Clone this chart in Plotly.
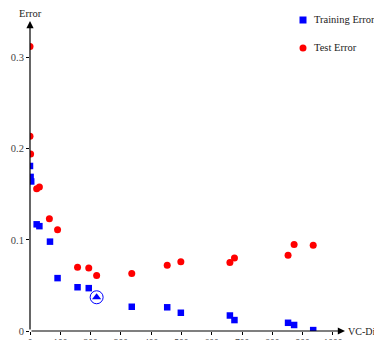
import plotly.graph_objects as go

train_x = [0, 2, 4, 22, 31, 66, 91, 157, 194, 336, 453, 498, 660, 675, 852, 872, 935]
train_y = [0.181, 0.169, 0.164, 0.117, 0.115, 0.098, 0.058, 0.048, 0.047, 0.0266, 0.026, 0.020, 0.017, 0.012, 0.009, 0.0066, 0.001]

test_x = [0, 0, 2, 22, 31, 64, 91, 157, 194, 220, 336, 453, 498, 660, 675, 852, 872, 935]
test_y = [0.312, 0.2136, 0.194, 0.156, 0.158, 0.123, 0.111, 0.070, 0.069, 0.061, 0.063, 0.072, 0.076, 0.075, 0.080, 0.083, 0.095, 0.094]

best_x = [220]
best_y = [0.037]

x_ticks = [0, 100, 200, 300, 400, 500, 600, 700, 800, 900, 1000]
y_ticks = [0, 0.1, 0.2, 0.3]
legend_labels = ["Training Error", "Test Error"]

FONT = "Liberation Serif"
BLUE = "#0000ff"
RED = "#ff0000"
XMAX = 1040
YMAX = 0.34

OFF = 8  # page body margin
W, H = 382 - OFF, 340 - OFF
ML, MR, MT, MB = 30 - OFF, 0, 0, 9
PW, PH = W - ML - MR, H - MT - MB


def px(x):
    return (x - OFF - ML) / PW


def py(y):
    return 1 - (y - OFF - MT) / PH


fig = go.Figure()
fig.add_trace(go.Scatter(x=train_x, y=train_y, mode="markers", name=legend_labels[0],
                         showlegend=False,
                         marker=dict(symbol="square", size=6.5, color=BLUE)))
fig.add_trace(go.Scatter(x=test_x, y=test_y, mode="markers", name=legend_labels[1],
                         showlegend=False,
                         marker=dict(symbol="circle", size=7, color=RED)))
fig.add_trace(go.Scatter(x=best_x, y=best_y, mode="markers", showlegend=False,
                         marker=dict(symbol="circle-open", size=13, color=BLUE,
                                     line=dict(width=1, color=BLUE))))
fig.add_trace(go.Scatter(x=best_x, y=best_y, mode="markers", showlegend=False,
                         marker=dict(symbol="triangle-up", size=8, color=BLUE)))

# axis arrows
fig.add_annotation(x=XMAX, y=0, ax=0, ay=0, xref="x", yref="y", axref="x", ayref="y",
                   showarrow=True, arrowhead=2, arrowsize=1.2, arrowwidth=1.2,
                   arrowcolor="black", text="")
fig.add_annotation(x=0, y=YMAX, ax=0, ay=0, xref="x", yref="y", axref="x", ayref="y",
                   showarrow=True, arrowhead=2, arrowsize=1.2, arrowwidth=1.2,
                   arrowcolor="black", text="")
fig.add_annotation(x=XMAX, y=0, xref="x", yref="y", text="VC-Dim", showarrow=False,
                   xanchor="left", yanchor="middle", xshift=1,
                   font=dict(family=FONT, size=10, color="#222"))
fig.add_annotation(x=0, y=YMAX, xref="x", yref="y", text="Error", showarrow=False,
                   xanchor="center", yanchor="bottom", yshift=0,
                   font=dict(family=FONT, size=10.5, color="#222"))

# manual legend
sq = 3.5
fig.add_shape(type="rect", xref="paper", yref="paper",
              x0=px(303 - sq), x1=px(303 + sq), y0=py(20 + sq), y1=py(20 - sq),
              fillcolor=BLUE, line=dict(width=0))
r = 3.5
fig.add_shape(type="circle", xref="paper", yref="paper",
              x0=px(303 - r), x1=px(303 + r), y0=py(48 + r), y1=py(48 - r),
              fillcolor=RED, line=dict(width=0))
for lab, yy in zip(legend_labels, [20, 48]):
    fig.add_annotation(x=px(312), y=py(yy), xref="paper", yref="paper", text=lab,
                       showarrow=False, xanchor="left", yanchor="middle",
                       font=dict(family=FONT, size=10.5, color="#222"))

fig.update_xaxes(range=[0, XMAX], domain=[0, 315 / PW], tickvals=x_ticks,
                 showgrid=False, zeroline=False, automargin=False,
                 showline=False, ticks="outside", ticklen=3, tickcolor="black",
                 tickfont=dict(family=FONT, size=9.5, color="#444"))
fig.update_yaxes(range=[0, YMAX], domain=[0, 310 / PH], tickvals=y_ticks,
                 ticktext=["0", "0.1", "0.2", "0.3"],
                 showgrid=False, zeroline=False, automargin=False,
                 showline=False, ticks="outside", ticklen=3, tickcolor="black",
                 tickfont=dict(family=FONT, size=10.5, color="#444"))

fig.update_layout(width=W, height=H, margin=dict(l=ML, r=MR, t=MT, b=MB, pad=0),
                  plot_bgcolor="white", paper_bgcolor="white", showlegend=False,
                  font=dict(family=FONT, size=10.5, color="#222"))

fig.write_html("out.html")
